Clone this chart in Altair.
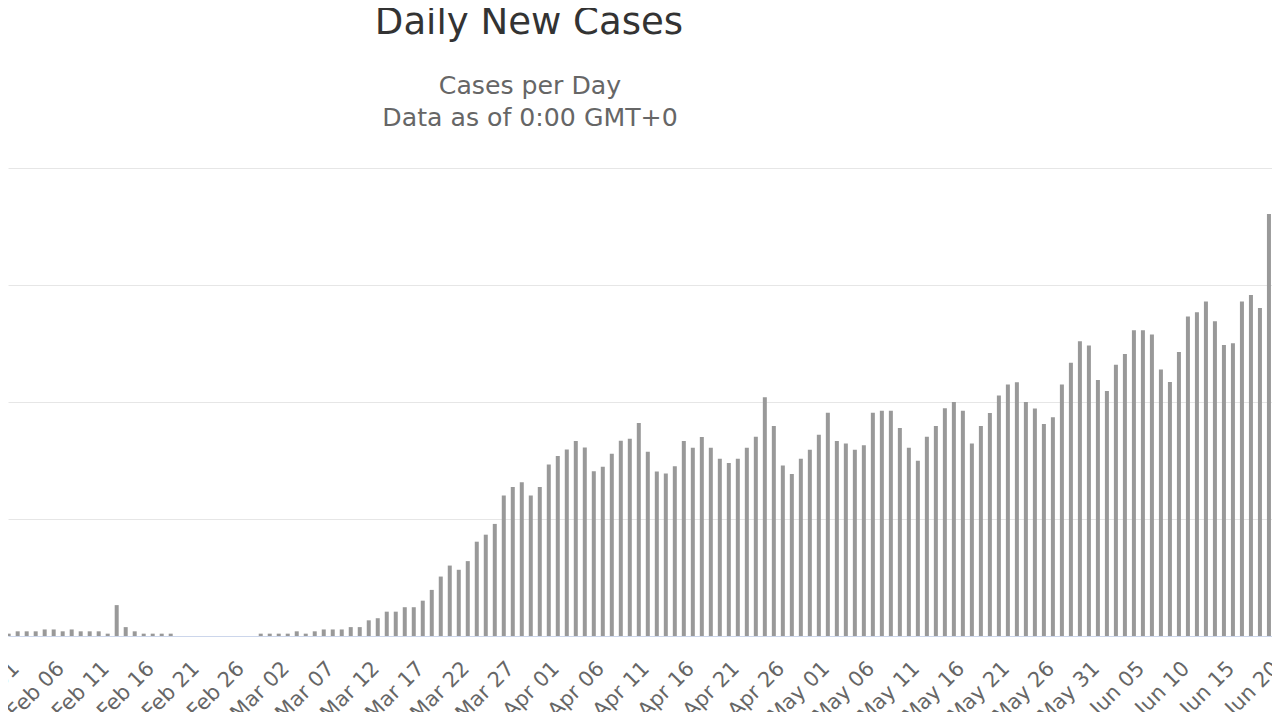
import altair as alt
import pandas as pd

# ---- data (thousands of new cases per day), Jan 31 .. Jun 21, 2020 ----
start_date = "2020-01-31"
cases_k = [
    1.0,                                                   # Jan 31
    1.0, 2.0, 2.0, 2.0, 2.8, 2.8, 2.0, 2.8, 2.0, 2.0,      # Feb 01-10
    2.0, 1.0, 13.2, 3.8, 2.0, 1.0, 1.0, 1.0, 1.0, 0.0,     # Feb 11-20
    0.0, 0.0, 0.0, 0.0, 0.0, 0.0, 0.0, 0.0, 1.0,           # Feb 21-29
    1.0, 1.0, 1.0, 2.0, 1.0, 2.0, 2.8, 2.8, 2.8, 3.8,      # Mar 01-10
    3.8, 6.7, 7.6, 10.4, 10.4, 12.3, 12.3, 15.1, 19.7, 25.4,  # Mar 11-20
    30.1, 28.3, 32.0, 40.3, 43.3, 47.9, 60.0, 63.7, 65.7, 60.0, 63.7,  # Mar 21-31
    73.3, 76.9, 79.7, 83.3, 80.6, 70.4, 72.3, 77.9, 83.4, 84.3,  # Apr 01-10
    91.0, 78.7, 70.3, 69.4, 72.5, 83.3, 80.5, 85.0, 80.5, 75.8,  # Apr 11-20
    73.9, 75.8, 80.5, 85.2, 102.0, 89.7, 72.9, 69.2, 75.8, 79.6,  # Apr 21-30
    86.0, 95.4, 83.3, 82.3, 79.6, 81.5, 95.4, 96.3, 96.3, 88.9,  # May 01-10
    80.5, 74.9, 85.2, 89.7, 97.3, 100.0, 96.3, 82.3, 89.7, 95.3,  # May 11-20
    102.8, 107.5, 108.4, 100.0, 97.2, 90.6, 93.5, 107.5, 116.8, 126.0, 124.1,  # May 21-31
    109.4, 104.7, 115.9, 120.5, 130.7, 130.7, 128.8, 113.9, 108.5, 121.4,  # Jun 01-10
    136.5, 138.4, 142.9, 134.5, 124.4, 125.1, 142.9, 145.7, 140.2, 180.3,  # Jun 11-20
    156.1,                                                 # Jun 21
]

tick_labels = [
    "Feb 01", "Feb 06", "Feb 11", "Feb 16", "Feb 21", "Feb 26",
    "Mar 02", "Mar 07", "Mar 12", "Mar 17", "Mar 22", "Mar 27",
    "Apr 01", "Apr 06", "Apr 11", "Apr 16", "Apr 21", "Apr 26",
    "May 01", "May 06", "May 11", "May 16", "May 21", "May 26", "May 31",
    "Jun 05", "Jun 10", "Jun 15", "Jun 20",
]

y_ticks = [0, 50000, 100000, 150000, 200000]

chart_title = "Daily New Cases"
subtitle_lines = ["Cases per Day", "Data as of 0:00 GMT+0"]

# ---- build table ----
dates = pd.date_range(start_date, periods=len(cases_k), freq="D")
df = pd.DataFrame({
    "date": dates.strftime("%Y-%m-%d"),
    "day": list(range(len(cases_k))),
    "cases": [round(v * 1000) for v in cases_k],
})

t0 = pd.Timestamp(start_date)
tick_days = [(pd.Timestamp(lbl + " 2020") - t0).days for lbl in tick_labels]
label_expr = (
    "[" + ",".join("'" + l + "'" for l in tick_labels) + "]"
    + f"[round((datum.value - {tick_days[0]}) / 5)]"
)

FONT = "DejaVu Sans"

bars = alt.Chart(df).mark_bar(color="#999999", size=4, clip=True).encode(
    x=alt.X(
        "day:Q",
        scale=alt.Scale(domain=[0.925, 141.34], nice=False, zero=False, padding=0),
        axis=alt.Axis(
            values=tick_days, labelExpr=label_expr, title=None,
            grid=False, ticks=False, tickSize=0,
            domain=True, domainColor="#ccd6eb", domainWidth=1,
            labelAngle=-45, labelAlign="right", labelBaseline="middle",
            labelPadding=29, labelOffset=7, labelFontSize=21,
            labelFont=FONT, labelColor="#666666",
            labelOverlap=False, labelFlush=False, labelBound=False,
        ),
    ),
    y=alt.Y(
        "cases:Q",
        scale=alt.Scale(domain=[0, 200000], nice=False, padding=0),
        axis=alt.Axis(
            values=y_ticks, grid=True, gridColor="#e6e6e6", gridWidth=1,
            labels=False, ticks=False, domain=False, title=None,
        ),
    ),
    tooltip=[alt.Tooltip("date:N", title="Date"), alt.Tooltip("cases:Q", title="Cases")],
)

title_mark = alt.Chart(pd.DataFrame({"t": [chart_title]})).mark_text(
    font=FONT, fontSize=37.1, color="#333333", align="center", baseline="alphabetic"
).encode(text="t:N", x=alt.value(521), y=alt.value(-134))

sub1 = alt.Chart(pd.DataFrame({"t": [subtitle_lines[0]]})).mark_text(
    font=FONT, fontSize=25.2, color="#666666", align="center", baseline="alphabetic"
).encode(text="t:N", x=alt.value(522), y=alt.value(-74))

sub2 = alt.Chart(pd.DataFrame({"t": [subtitle_lines[1]]})).mark_text(
    font=FONT, fontSize=25.2, color="#666666", align="center", baseline="alphabetic"
).encode(text="t:N", x=alt.value(522), y=alt.value(-42))

chart = alt.layer(bars, title_mark, sub1, sub2).properties(
    width=1264,
    height=468,
    autosize=alt.AutoSizeParams(type="none"),
    padding={"left": 0, "top": 160, "right": 0, "bottom": 76},
    background="white",
).configure_view(stroke=None)

chart.save("out.html", embed_options={"renderer": "svg", "actions": False})
